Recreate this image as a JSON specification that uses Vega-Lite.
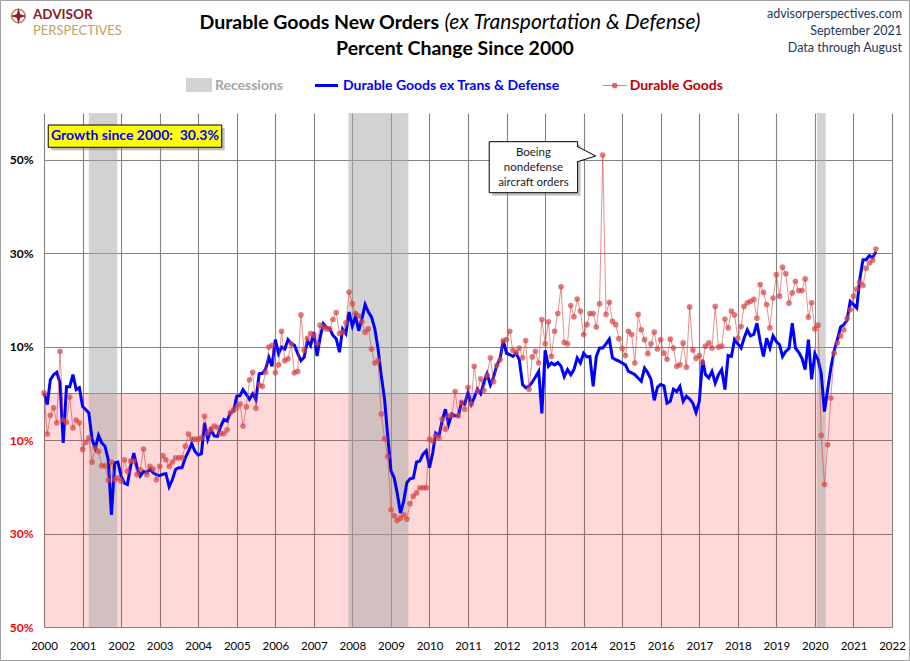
{
  "$schema": "https://vega.github.io/schema/vega-lite/v6.json",
  "width": 848,
  "height": 514,
  "autosize": {"type": "none"},
  "padding": {"left": 44, "top": 113, "right": 18, "bottom": 34},
  "background": "#ffffff",
  "config": {
    "font": "Lato",
    "view": {"stroke": null},
    "axis": {"domain": false, "ticks": false, "tickSize": 0, "grid": true, "gridColor": "#848484", "gridWidth": 1.1, "labelFont": "Lato", "labelColor": "#000000"}
  },
  "datasets": {
    "series": [
      {"date":"2000-01-01","ex":0.1,"dg":0.1},{"date":"2000-02-01","ex":-2.4,"dg":-8.7},{"date":"2000-03-01","ex":2.9,"dg":-4.7},{"date":"2000-04-01","ex":4.0,"dg":-3.1},{"date":"2000-05-01","ex":4.5,"dg":-6.3},{"date":"2000-06-01","ex":2.2,"dg":9.0},{"date":"2000-07-01","ex":-10.6,"dg":-5.7},{"date":"2000-08-01","ex":1.4,"dg":-6.2},{"date":"2000-09-01","ex":1.4,"dg":-0.8},{"date":"2000-10-01","ex":4.0,"dg":-7.4},{"date":"2000-11-01","ex":0.8,"dg":-5.7},{"date":"2000-12-01","ex":1.2,"dg":-6.3},
      {"date":"2001-01-01","ex":-2.8,"dg":-12.0},{"date":"2001-02-01","ex":-3.5,"dg":-10.5},{"date":"2001-03-01","ex":-4.2,"dg":-9.5},{"date":"2001-04-01","ex":-9.9,"dg":-14.7},{"date":"2001-05-01","ex":-11.7,"dg":-11.7},{"date":"2001-06-01","ex":-9.0,"dg":-12.4},{"date":"2001-07-01","ex":-10.6,"dg":-15.5},{"date":"2001-08-01","ex":-11.3,"dg":-15.5},{"date":"2001-09-01","ex":-14.2,"dg":-18.6},{"date":"2001-10-01","ex":-26.0,"dg":-14.7},{"date":"2001-11-01","ex":-14.9,"dg":-18.5},{"date":"2001-12-01","ex":-14.7,"dg":-18.1},
      {"date":"2002-01-01","ex":-17.7,"dg":-18.8},{"date":"2002-02-01","ex":-19.2,"dg":-14.2},{"date":"2002-03-01","ex":-19.5,"dg":-16.7},{"date":"2002-04-01","ex":-15.6,"dg":-14.5},{"date":"2002-05-01","ex":-12.8,"dg":-14.5},{"date":"2002-06-01","ex":-15.9,"dg":-17.4},{"date":"2002-07-01","ex":-17.7,"dg":-16.3},{"date":"2002-08-01","ex":-16.7,"dg":-11.9},{"date":"2002-09-01","ex":-17.0,"dg":-17.4},{"date":"2002-10-01","ex":-16.2,"dg":-15.6},{"date":"2002-11-01","ex":-17.0,"dg":-16.2},{"date":"2002-12-01","ex":-17.4,"dg":-18.5},
      {"date":"2003-01-01","ex":-17.6,"dg":-15.6},{"date":"2003-02-01","ex":-17.3,"dg":-13.3},{"date":"2003-03-01","ex":-17.2,"dg":-14.2},{"date":"2003-04-01","ex":-20.0,"dg":-15.6},{"date":"2003-05-01","ex":-18.5,"dg":-14.7},{"date":"2003-06-01","ex":-16.3,"dg":-13.8},{"date":"2003-07-01","ex":-15.9,"dg":-13.8},{"date":"2003-08-01","ex":-15.9,"dg":-13.8},{"date":"2003-09-01","ex":-13.8,"dg":-11.3},{"date":"2003-10-01","ex":-12.4,"dg":-8.7},{"date":"2003-11-01","ex":-10.8,"dg":-9.8},{"date":"2003-12-01","ex":-12.4,"dg":-9.8},
      {"date":"2004-01-01","ex":-13.2,"dg":-9.8},{"date":"2004-02-01","ex":-12.9,"dg":-9.5},{"date":"2004-03-01","ex":-6.3,"dg":-4.9},{"date":"2004-04-01","ex":-9.8,"dg":-8.5},{"date":"2004-05-01","ex":-7.8,"dg":-7.7},{"date":"2004-06-01","ex":-9.1,"dg":-7.0},{"date":"2004-07-01","ex":-9.2,"dg":-7.3},{"date":"2004-08-01","ex":-7.1,"dg":-8.6},{"date":"2004-09-01","ex":-5.6,"dg":-8.6},{"date":"2004-10-01","ex":-5.9,"dg":-7.8},{"date":"2004-11-01","ex":-4.2,"dg":-4.1},{"date":"2004-12-01","ex":-3.8,"dg":-3.6},
      {"date":"2005-01-01","ex":-0.6,"dg":-3.0},{"date":"2005-02-01","ex":-0.5,"dg":-2.3},{"date":"2005-03-01","ex":0.8,"dg":-7.0},{"date":"2005-04-01","ex":-0.2,"dg":-2.9},{"date":"2005-05-01","ex":-1.3,"dg":2.9},{"date":"2005-06-01","ex":-0.1,"dg":4.5},{"date":"2005-07-01","ex":-1.4,"dg":-3.2},{"date":"2005-08-01","ex":4.2,"dg":1.8},{"date":"2005-09-01","ex":4.3,"dg":1.5},{"date":"2005-10-01","ex":5.2,"dg":4.5},{"date":"2005-11-01","ex":7.7,"dg":9.9},{"date":"2005-12-01","ex":5.8,"dg":10.3},
      {"date":"2006-01-01","ex":11.5,"dg":4.4},{"date":"2006-02-01","ex":8.5,"dg":6.1},{"date":"2006-03-01","ex":9.9,"dg":13.3},{"date":"2006-04-01","ex":9.5,"dg":7.0},{"date":"2006-05-01","ex":11.5,"dg":7.4},{"date":"2006-06-01","ex":10.6,"dg":10.6},{"date":"2006-07-01","ex":10.3,"dg":4.4},{"date":"2006-08-01","ex":8.5,"dg":4.7},{"date":"2006-09-01","ex":7.0,"dg":16.8},{"date":"2006-10-01","ex":7.7,"dg":9.2},{"date":"2006-11-01","ex":11.3,"dg":11.8},{"date":"2006-12-01","ex":10.2,"dg":12.8},
      {"date":"2007-01-01","ex":13.1,"dg":12.4},{"date":"2007-02-01","ex":8.0,"dg":10.6},{"date":"2007-03-01","ex":11.9,"dg":14.6},{"date":"2007-04-01","ex":14.9,"dg":14.2},{"date":"2007-05-01","ex":14.1,"dg":13.8},{"date":"2007-06-01","ex":13.8,"dg":13.8},{"date":"2007-07-01","ex":12.4,"dg":15.8},{"date":"2007-08-01","ex":11.7,"dg":17.3},{"date":"2007-09-01","ex":8.8,"dg":12.8},{"date":"2007-10-01","ex":13.8,"dg":13.1},{"date":"2007-11-01","ex":12.8,"dg":15.1},{"date":"2007-12-01","ex":17.4,"dg":21.7},
      {"date":"2008-01-01","ex":14.4,"dg":19.2},{"date":"2008-02-01","ex":16.5,"dg":17.1},{"date":"2008-03-01","ex":13.4,"dg":16.6},{"date":"2008-04-01","ex":16.0,"dg":15.3},{"date":"2008-05-01","ex":19.0,"dg":13.1},{"date":"2008-06-01","ex":17.4,"dg":13.8},{"date":"2008-07-01","ex":16.3,"dg":9.5},{"date":"2008-08-01","ex":13.8,"dg":6.5},{"date":"2008-09-01","ex":9.5,"dg":7.0},{"date":"2008-10-01","ex":3.8,"dg":-4.4},{"date":"2008-11-01","ex":-1.2,"dg":-9.7},{"date":"2008-12-01","ex":-9.1,"dg":-13.5},
      {"date":"2009-01-01","ex":-16.6,"dg":-24.9},{"date":"2009-02-01","ex":-18.1,"dg":-26.2},{"date":"2009-03-01","ex":-21.3,"dg":-27.2},{"date":"2009-04-01","ex":-25.6,"dg":-26.7},{"date":"2009-05-01","ex":-23.1,"dg":-26.0},{"date":"2009-06-01","ex":-19.1,"dg":-26.9},{"date":"2009-07-01","ex":-18.3,"dg":-23.6},{"date":"2009-08-01","ex":-18.1,"dg":-22.0},{"date":"2009-09-01","ex":-14.7,"dg":-21.3},{"date":"2009-10-01","ex":-14.5,"dg":-20.2},{"date":"2009-11-01","ex":-13.0,"dg":-20.2},{"date":"2009-12-01","ex":-12.3,"dg":-20.2},
      {"date":"2010-01-01","ex":-15.9,"dg":-9.8},{"date":"2010-02-01","ex":-12.7,"dg":-10.2},{"date":"2010-03-01","ex":-8.5,"dg":-9.1},{"date":"2010-04-01","ex":-9.1,"dg":-9.5},{"date":"2010-05-01","ex":-5.9,"dg":-5.5},{"date":"2010-06-01","ex":-3.4,"dg":-7.7},{"date":"2010-07-01","ex":-6.6,"dg":-4.8},{"date":"2010-08-01","ex":-4.4,"dg":-4.8},{"date":"2010-09-01","ex":-4.8,"dg":0.4},{"date":"2010-10-01","ex":-4.8,"dg":-4.8},{"date":"2010-11-01","ex":-1.9,"dg":-1.9},{"date":"2010-12-01","ex":-2.3,"dg":-3.4},
      {"date":"2011-01-01","ex":0.2,"dg":1.3},{"date":"2011-02-01","ex":-2.3,"dg":-2.3},{"date":"2011-03-01","ex":-0.9,"dg":5.8},{"date":"2011-04-01","ex":0.9,"dg":0.4},{"date":"2011-05-01","ex":-0.1,"dg":3.1},{"date":"2011-06-01","ex":2.4,"dg":0.6},{"date":"2011-07-01","ex":4.2,"dg":3.8},{"date":"2011-08-01","ex":1.8,"dg":7.6},{"date":"2011-09-01","ex":3.5,"dg":2.5},{"date":"2011-10-01","ex":6.0,"dg":6.0},{"date":"2011-11-01","ex":7.4,"dg":7.2},{"date":"2011-12-01","ex":11.3,"dg":11.3},
      {"date":"2012-01-01","ex":8.6,"dg":11.5},{"date":"2012-02-01","ex":8.3,"dg":13.3},{"date":"2012-03-01","ex":7.9,"dg":9.2},{"date":"2012-04-01","ex":8.6,"dg":8.8},{"date":"2012-05-01","ex":7.2,"dg":9.7},{"date":"2012-06-01","ex":1.9,"dg":7.6},{"date":"2012-07-01","ex":1.2,"dg":11.3},{"date":"2012-08-01","ex":1.5,"dg":0.9},{"date":"2012-09-01","ex":2.4,"dg":7.8},{"date":"2012-10-01","ex":3.5,"dg":9.0},{"date":"2012-11-01","ex":4.7,"dg":6.5},{"date":"2012-12-01","ex":-4.3,"dg":15.8},
      {"date":"2013-01-01","ex":9.2,"dg":10.6},{"date":"2013-02-01","ex":5.8,"dg":15.3},{"date":"2013-03-01","ex":6.5,"dg":7.9},{"date":"2013-04-01","ex":6.1,"dg":13.3},{"date":"2013-05-01","ex":6.6,"dg":17.1},{"date":"2013-06-01","ex":5.8,"dg":22.8},{"date":"2013-07-01","ex":3.6,"dg":10.9},{"date":"2013-08-01","ex":5.1,"dg":10.6},{"date":"2013-09-01","ex":4.0,"dg":18.8},{"date":"2013-10-01","ex":5.1,"dg":16.4},{"date":"2013-11-01","ex":7.6,"dg":20.2},{"date":"2013-12-01","ex":6.5,"dg":17.6},
      {"date":"2014-01-01","ex":8.6,"dg":12.6},{"date":"2014-02-01","ex":7.8,"dg":14.7},{"date":"2014-03-01","ex":7.9,"dg":17.1},{"date":"2014-04-01","ex":1.5,"dg":17.1},{"date":"2014-05-01","ex":7.9,"dg":14.2},{"date":"2014-06-01","ex":9.7,"dg":19.2},{"date":"2014-07-01","ex":9.7,"dg":51.0},{"date":"2014-08-01","ex":10.6,"dg":16.9},{"date":"2014-09-01","ex":11.6,"dg":19.5},{"date":"2014-10-01","ex":7.6,"dg":15.4},{"date":"2014-11-01","ex":7.2,"dg":14.7},{"date":"2014-12-01","ex":6.9,"dg":11.7},
      {"date":"2015-01-01","ex":6.5,"dg":9.6},{"date":"2015-02-01","ex":6.1,"dg":8.1},{"date":"2015-03-01","ex":4.7,"dg":13.3},{"date":"2015-04-01","ex":4.4,"dg":12.6},{"date":"2015-05-01","ex":4.0,"dg":6.5},{"date":"2015-06-01","ex":3.3,"dg":16.9},{"date":"2015-07-01","ex":2.6,"dg":13.6},{"date":"2015-08-01","ex":5.4,"dg":11.5},{"date":"2015-09-01","ex":4.4,"dg":8.5},{"date":"2015-10-01","ex":3.0,"dg":10.6},{"date":"2015-11-01","ex":-1.5,"dg":13.1},{"date":"2015-12-01","ex":1.3,"dg":9.5},
      {"date":"2016-01-01","ex":1.9,"dg":11.5},{"date":"2016-02-01","ex":1.6,"dg":8.6},{"date":"2016-03-01","ex":-2.1,"dg":7.3},{"date":"2016-04-01","ex":-1.7,"dg":11.6},{"date":"2016-05-01","ex":0.9,"dg":9.7},{"date":"2016-06-01","ex":0.4,"dg":5.8},{"date":"2016-07-01","ex":1.5,"dg":6.1},{"date":"2016-08-01","ex":-1.7,"dg":10.8},{"date":"2016-09-01","ex":-0.6,"dg":5.6},{"date":"2016-10-01","ex":-1.2,"dg":18.5},{"date":"2016-11-01","ex":-2.1,"dg":9.3},{"date":"2016-12-01","ex":-4.1,"dg":7.5},
      {"date":"2017-01-01","ex":-1.7,"dg":8.1},{"date":"2017-02-01","ex":7.2,"dg":6.6},{"date":"2017-03-01","ex":4.0,"dg":10.1},{"date":"2017-04-01","ex":3.3,"dg":10.8},{"date":"2017-05-01","ex":4.7,"dg":9.7},{"date":"2017-06-01","ex":2.2,"dg":18.6},{"date":"2017-07-01","ex":4.0,"dg":9.9},{"date":"2017-08-01","ex":5.1,"dg":10.1},{"date":"2017-09-01","ex":0.8,"dg":15.9},{"date":"2017-10-01","ex":8.1,"dg":14.0},{"date":"2017-11-01","ex":7.9,"dg":17.6},{"date":"2017-12-01","ex":11.5,"dg":16.8},
      {"date":"2018-01-01","ex":10.6,"dg":11.8},{"date":"2018-02-01","ex":9.7,"dg":14.3},{"date":"2018-03-01","ex":11.8,"dg":18.6},{"date":"2018-04-01","ex":13.6,"dg":19.4},{"date":"2018-05-01","ex":12.3,"dg":19.7},{"date":"2018-06-01","ex":12.6,"dg":20.1},{"date":"2018-07-01","ex":15.0,"dg":16.1},{"date":"2018-08-01","ex":11.1,"dg":23.3},{"date":"2018-09-01","ex":7.9,"dg":21.6},{"date":"2018-10-01","ex":11.8,"dg":19.0},{"date":"2018-11-01","ex":9.7,"dg":14.0},{"date":"2018-12-01","ex":12.3,"dg":20.4},
      {"date":"2019-01-01","ex":11.1,"dg":25.4},{"date":"2019-02-01","ex":10.4,"dg":20.8},{"date":"2019-03-01","ex":7.9,"dg":27.0},{"date":"2019-04-01","ex":9.0,"dg":25.6},{"date":"2019-05-01","ex":9.6,"dg":19.3},{"date":"2019-06-01","ex":15.0,"dg":21.5},{"date":"2019-07-01","ex":9.7,"dg":24.0},{"date":"2019-08-01","ex":8.8,"dg":22.0},{"date":"2019-09-01","ex":7.5,"dg":22.0},{"date":"2019-10-01","ex":5.1,"dg":24.5},{"date":"2019-11-01","ex":11.5,"dg":16.3},{"date":"2019-12-01","ex":3.0,"dg":19.4},
      {"date":"2020-01-01","ex":8.5,"dg":13.8},{"date":"2020-02-01","ex":7.2,"dg":14.6},{"date":"2020-03-01","ex":4.2,"dg":-9.0},{"date":"2020-04-01","ex":-3.9,"dg":-19.5},{"date":"2020-05-01","ex":0.8,"dg":-11.0},{"date":"2020-06-01","ex":5.5,"dg":-1.0},{"date":"2020-07-01","ex":9.0,"dg":8.6},{"date":"2020-08-01","ex":11.5,"dg":10.8},{"date":"2020-09-01","ex":14.2,"dg":12.3},{"date":"2020-10-01","ex":14.7,"dg":13.6},{"date":"2020-11-01","ex":15.6,"dg":16.0},{"date":"2020-12-01","ex":19.7,"dg":17.9},
      {"date":"2021-01-01","ex":19.0,"dg":20.8},{"date":"2021-02-01","ex":18.3,"dg":22.3},{"date":"2021-03-01","ex":24.3,"dg":23.8},{"date":"2021-04-01","ex":28.6,"dg":23.1},{"date":"2021-05-01","ex":28.6,"dg":26.8},{"date":"2021-06-01","ex":29.5,"dg":27.9},{"date":"2021-07-01","ex":29.0,"dg":28.5},{"date":"2021-08-01","ex":30.3,"dg":30.9}
    ],
    "recessions": [
      {"start":"2001-03-01","end":"2001-11-25"},
      {"start":"2007-11-25","end":"2009-06-15"},
      {"start":"2020-01-22","end":"2020-04-13"}
    ]
  },
  "layer": [
    {
      "data": {"values": [{}]},
      "mark": {"type": "rect", "color": "#FF0000", "opacity": 0.15},
      "encoding": {
        "x": {"datum": {"year": 2000, "month": 1, "date": 1, "utc": true}, "type": "temporal"},
        "x2": {"datum": {"year": 2022, "month": 1, "date": 1, "utc": true}},
        "y": {"datum": 0, "type": "quantitative"},
        "y2": {"datum": -50}
      }
    },
    {
      "data": {"name": "recessions"},
      "mark": {"type": "rect", "color": "#A6A6A6", "opacity": 0.5},
      "encoding": {
        "x": {"field": "start", "type": "temporal"},
        "x2": {"field": "end"},
        "y": {"datum": 60, "type": "quantitative"},
        "y2": {"datum": -50}
      }
    },
    {
      "data": {"name": "series"},
      "mark": {"type": "line", "strokeWidth": 3, "color": "#0000FF"},
      "encoding": {
        "x": {"field": "date", "type": "temporal",
              "scale": {"type": "utc", "domain": [{"year": 2000, "month": 1, "date": 1, "utc": true}, {"year": 2022, "month": 1, "date": 1, "utc": true}], "nice": false},
              "axis": {"title": null, "format": "%Y", "tickCount": {"interval": "year", "step": 1}, "labelPadding": 13, "labelFontSize": 11.5, "labelOverlap": false, "labelFlush": false, "labelBound": false}},
        "y": {"field": "ex", "type": "quantitative",
              "scale": {"domain": [-50, 60], "nice": false, "zero": false},
              "axis": {"title": null, "values": [-50, -30, -10, 0, 10, 30, 50], "labelExpr": "datum.value == 0 ? '' : abs(datum.value) + '%'", "labelColor": {"condition": {"test": "datum.value < 0", "value": "#FF0000"}, "value": "#000000"}, "labelFontWeight": "bold", "labelFontSize": 12, "labelPadding": 11}}
      }
    },
    {
      "data": {"name": "series"},
      "mark": {"type": "line", "strokeWidth": 1, "color": "#D64545", "opacity": 0.6},
      "encoding": {
        "x": {"field": "date", "type": "temporal"},
        "y": {"field": "dg", "type": "quantitative"}
      }
    },
    {
      "data": {"name": "series"},
      "mark": {"type": "point", "filled": true, "size": 32, "color": "#D64545", "opacity": 0.7, "strokeWidth": 0},
      "encoding": {
        "x": {"field": "date", "type": "temporal"},
        "y": {"field": "dg", "type": "quantitative"}
      }
    },
    {
      "data": {"values": [{}]},
      "mark": {"type": "rect", "color": "#D3D3D3"},
      "encoding": {
        "x": {"datum": {"year": 2003, "month": 9, "date": 7, "utc": true}, "type": "temporal"},
        "x2": {"datum": {"year": 2004, "month": 5, "date": 11, "utc": true}},
        "y": {"datum": 67.49, "type": "quantitative"},
        "y2": {"datum": 64.49}
      }
    },
    {
      "data": {"values": [{}]},
      "mark": {"type": "rule", "color": "#0000FF", "strokeWidth": 3},
      "encoding": {
        "x": {"datum": {"year": 2007, "month": 1, "date": 12, "utc": true}, "type": "temporal"},
        "x2": {"datum": {"year": 2007, "month": 8, "date": 18, "utc": true}},
        "y": {"datum": 65.885, "type": "quantitative"}
      }
    },
    {
      "data": {"values": [{}]},
      "mark": {"type": "rule", "color": "#E07A7A", "strokeWidth": 1},
      "encoding": {
        "x": {"datum": {"year": 2014, "month": 6, "date": 30, "utc": true}, "type": "temporal"},
        "x2": {"datum": {"year": 2015, "month": 2, "date": 12, "utc": true}},
        "y": {"datum": 65.885, "type": "quantitative"}
      }
    },
    {
      "data": {"values": [{}]},
      "mark": {"type": "point", "filled": true, "size": 32, "color": "#D64545", "opacity": 0.8},
      "encoding": {
        "x": {"datum": {"year": 2014, "month": 10, "date": 22, "utc": true}, "type": "temporal"},
        "y": {"datum": 65.885, "type": "quantitative"}
      }
    },
    {
      "data": {"values": [{}]},
      "mark": {"type": "text", "font": "Lato", "fontSize": 14, "fontWeight": "bold", "color": "#A6A6A6", "align": "left", "baseline": "middle"},
      "encoding": {
        "x": {"datum": {"year": 2004, "month": 6, "date": 8, "utc": true}, "type": "temporal"},
        "y": {"datum": 65.885, "type": "quantitative"},
        "text": {"value": "Recessions"}
      }
    },
    {
      "data": {"values": [{}]},
      "mark": {"type": "text", "font": "Lato", "fontSize": 14, "fontWeight": "bold", "color": "#0000FF", "align": "left", "baseline": "middle"},
      "encoding": {
        "x": {"datum": {"year": 2007, "month": 10, "date": 4, "utc": true}, "type": "temporal"},
        "y": {"datum": 65.885, "type": "quantitative"},
        "text": {"value": "Durable Goods ex Trans & Defense"}
      }
    },
    {
      "data": {"values": [{}]},
      "mark": {"type": "text", "font": "Lato", "fontSize": 14, "fontWeight": "bold", "color": "#C00000", "align": "left", "baseline": "middle"},
      "encoding": {
        "x": {"datum": {"year": 2015, "month": 3, "date": 13, "utc": true}, "type": "temporal"},
        "y": {"datum": 65.885, "type": "quantitative"},
        "text": {"value": "Durable Goods"}
      }
    },
    {
      "data": {"values": [{}]},
      "mark": {"type": "rect", "color": "#7F7F7F", "opacity": 0.5},
      "encoding": {
        "x": {"datum": {"year": 2000, "month": 3, "date": 10, "utc": true}, "type": "temporal"},
        "x2": {"datum": {"year": 2004, "month": 9, "date": 8, "utc": true}},
        "y": {"datum": 56.79, "type": "quantitative"},
        "y2": {"datum": 52.02}
      }
    },
    {
      "data": {"values": [{}]},
      "mark": {"type": "rect", "fill": "#FFFF00", "stroke": "#000000", "strokeWidth": 1},
      "encoding": {
        "x": {"datum": {"year": 2000, "month": 2, "date": 10, "utc": true}, "type": "temporal"},
        "x2": {"datum": {"year": 2004, "month": 8, "date": 11, "utc": true}},
        "y": {"datum": 57.43, "type": "quantitative"},
        "y2": {"datum": 52.66}
      }
    },
    {
      "data": {"values": [{}]},
      "mark": {"type": "text", "font": "Lato", "fontSize": 14, "fontWeight": "bold", "color": "#0000FF", "align": "center", "baseline": "middle"},
      "encoding": {
        "x": {"datum": {"year": 2002, "month": 5, "date": 12, "utc": true}, "type": "temporal"},
        "y": {"datum": 55.05, "type": "quantitative"},
        "text": {"value": "Growth since 2000:\u00a0 30.3%"}
      }
    },
    {
      "data": {"values": [{}]},
      "mark": {"type": "rect", "color": "#7F7F7F", "opacity": 0.45},
      "encoding": {
        "x": {"datum": {"year": 2011, "month": 8, "date": 19, "utc": true}, "type": "temporal"},
        "x2": {"datum": {"year": 2013, "month": 12, "date": 3, "utc": true}},
        "y": {"datum": 53.2, "type": "quantitative"},
        "y2": {"datum": 42.3}
      }
    },
    {
      "data": {"values": [{}]},
      "mark": {"type": "rect", "fill": "#FFFFFF", "stroke": "#000000", "strokeWidth": 1},
      "encoding": {
        "x": {"datum": {"year": 2011, "month": 7, "date": 21, "utc": true}, "type": "temporal"},
        "x2": {"datum": {"year": 2013, "month": 11, "date": 5, "utc": true}},
        "y": {"datum": 53.86, "type": "quantitative"},
        "y2": {"datum": 42.94}
      }
    },
    {
      "data": {"values": [{}]},
      "mark": {"type": "point", "shape": "M-1.1,-0.93L-1,-0.93L1,0.1L-1,0.73L-1.1,0.73", "size": 324, "filled": true, "fill": "#FFFFFF", "stroke": "#000000", "strokeWidth": 1, "opacity": 1},
      "encoding": {
        "x": {"datum": {"year": 2014, "month": 1, "date": 30, "utc": true}, "type": "temporal"},
        "y": {"datum": 50.99, "type": "quantitative"}
      }
    },
    {
      "data": {"values": [{"label": "Boeing", "v": 51.5}, {"label": "nondefense", "v": 48.17}, {"label": "aircraft orders", "v": 44.96}]},
      "mark": {"type": "text", "font": "Lato", "fontSize": 11.5, "color": "#1A1A1A", "align": "center", "baseline": "middle"},
      "encoding": {
        "x": {"datum": {"year": 2012, "month": 9, "date": 12, "utc": true}, "type": "temporal"},
        "y": {"field": "v", "type": "quantitative"},
        "text": {"field": "label"}
      }
    },
    {
      "data": {"values": [{}]},
      "mark": {"type": "text", "font": "Lato", "fontSize": 19.5, "fontWeight": "bold", "color": "#000000", "align": "right", "baseline": "middle"},
      "encoding": {
        "x": {"datum": {"year": 2010, "month": 4, "date": 1, "utc": true}, "type": "temporal"},
        "y": {"datum": 79.26, "type": "quantitative"},
        "text": {"value": "Durable Goods New Orders"}
      }
    },
    {
      "data": {"values": [{}]},
      "mark": {"type": "text", "font": "Lato", "fontSize": 21, "fontStyle": "italic", "color": "#000000", "align": "left", "baseline": "middle"},
      "encoding": {
        "x": {"datum": {"year": 2010, "month": 5, "date": 23, "utc": true}, "type": "temporal"},
        "y": {"datum": 79.26, "type": "quantitative"},
        "text": {"value": "(ex Transportation & Defense)"}
      }
    },
    {
      "data": {"values": [{}]},
      "mark": {"type": "text", "font": "Lato", "fontSize": 19.5, "fontWeight": "bold", "color": "#000000", "align": "center", "baseline": "middle"},
      "encoding": {
        "x": {"datum": {"year": 2010, "month": 8, "date": 30, "utc": true}, "type": "temporal"},
        "y": {"datum": 73.7, "type": "quantitative"},
        "text": {"value": "Percent Change Since 2000"}
      }
    },
    {
      "data": {"values": [{"label": "advisorperspectives.com", "v": 81.19}, {"label": "September 2021", "v": 77.55}, {"label": "Data through August", "v": 73.91}]},
      "mark": {"type": "text", "font": "Lato", "fontSize": 12.5, "color": "#17375E", "align": "right", "baseline": "middle"},
      "encoding": {
        "x": {"datum": {"year": 2022, "month": 4, "date": 5, "utc": true}, "type": "temporal"},
        "y": {"field": "v", "type": "quantitative"},
        "text": {"field": "label"}
      }
    },
    {
      "data": {"values": [{}]},
      "mark": {"type": "point", "shape": "circle", "size": 180, "filled": false, "stroke": "#B8865A", "strokeWidth": 1.6, "opacity": 1},
      "encoding": {
        "x": {"datum": {"year": 1999, "month": 5, "date": 4, "utc": true}, "type": "temporal"},
        "y": {"datum": 80.76, "type": "quantitative"}
      }
    },
    {
      "data": {"values": [{}]},
      "mark": {"type": "point", "shape": "M0,-1L0.22,-0.22L1,0L0.22,0.22L0,1L-0.22,0.22L-1,0L-0.22,-0.22Z", "size": 256, "filled": true, "color": "#8B1A2A", "opacity": 1},
      "encoding": {
        "x": {"datum": {"year": 1999, "month": 5, "date": 4, "utc": true}, "type": "temporal"},
        "y": {"datum": 80.76, "type": "quantitative"}
      }
    },
    {
      "data": {"values": [{}]},
      "mark": {"type": "text", "font": "Lato", "fontSize": 13.5, "fontWeight": "bold", "color": "#8B1A2A", "align": "left", "baseline": "alphabetic"},
      "encoding": {
        "x": {"datum": {"year": 1999, "month": 9, "date": 18, "utc": true}, "type": "temporal"},
        "y": {"datum": 80.01, "type": "quantitative"},
        "text": {"value": "ADVISOR"}
      }
    },
    {
      "data": {"values": [{}]},
      "mark": {"type": "text", "font": "Lato", "fontSize": 13, "color": "#C4A062", "align": "left", "baseline": "alphabetic"},
      "encoding": {
        "x": {"datum": {"year": 1999, "month": 9, "date": 18, "utc": true}, "type": "temporal"},
        "y": {"datum": 76.6, "type": "quantitative"},
        "text": {"value": "PERSPECTIVES"}
      }
    },
    {
      "data": {"values": [{}]},
      "mark": {"type": "rect", "fill": "transparent", "stroke": "#A0A0A0", "strokeWidth": 1},
      "encoding": {
        "x": {"datum": {"year": 1998, "month": 11, "date": 15, "utc": true}, "type": "temporal"},
        "x2": {"datum": {"year": 2022, "month": 6, "date": 15, "utc": true}},
        "y": {"datum": 84.08, "type": "quantitative"},
        "y2": {"datum": -57.17}
      }
    }
  ]
}
